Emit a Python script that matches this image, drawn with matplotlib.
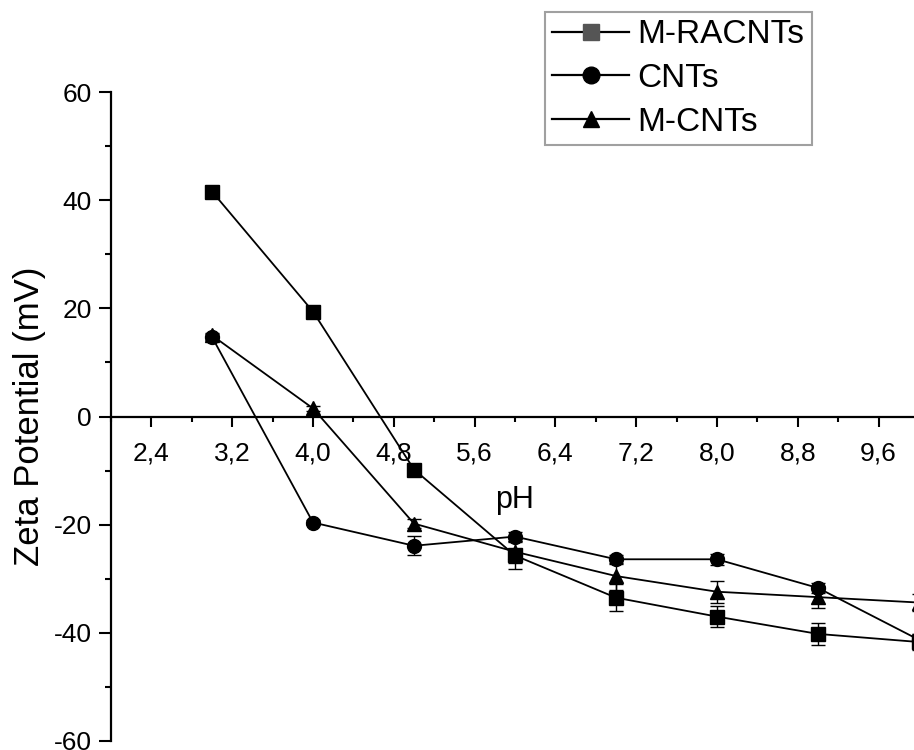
import numpy as np
import matplotlib.pyplot as plt
from matplotlib.ticker import MultipleLocator
from matplotlib.lines import Line2D

plt.rcParams['font.family'] = ['Liberation Sans', 'DejaVu Sans']
plt.rcParams['axes.unicode_minus'] = False

# pH values and zeta potential readings (mV)
ph = [3, 4, 5, 6, 7, 8, 9, 10]

racnt = [41.6, 19.4, -9.8, -25.7, -33.5, -37.0, -40.2, -41.7]
racnt_err = [1.0, 0.8, 0.8, 2.5, 2.5, 2.0, 2.0, 1.5]

cnt = [14.7, -19.6, -23.9, -22.2, -26.4, -26.4, -31.7, -41.3]
cnt_err = [0.5, 0.5, 1.8, 0.8, 0.8, 1.0, 1.0, 1.0]

mcnt = [15.0, 1.5, -19.8, -25.0, -29.5, -32.4, -33.4, -34.4]
mcnt_err = [0.5, 0.5, 0.8, 2.0, 2.5, 2.0, 2.0, 1.5]

xticks = [2.4, 3.2, 4.0, 4.8, 5.6, 6.4, 7.2, 8.0, 8.8, 9.6]
xtick_labels = ['2,4', '3,2', '4,0', '4,8', '5,6', '6,4', '7,2', '8,0', '8,8', '9,6']
yticks = [-60, -40, -20, 0, 20, 40, 60]

fig = plt.figure(figsize=(9.14, 7.5), dpi=100)
ax = fig.add_axes([111 / 914, 9 / 750, 808 / 914, 649 / 750])

series = [
    (racnt, racnt_err, 's', 'M-RACNTs'),
    (cnt, cnt_err, 'o', 'CNTs'),
    (mcnt, mcnt_err, '^', 'M-CNTs'),
]
handles = []
for y, err, m, lab in series:
    ax.errorbar(ph, y, yerr=err, fmt='-', marker=m, color='black', ms=10,
                lw=1.3, elinewidth=1, capsize=5, capthick=1)
    face = '#555555' if m == 's' else 'black'
    handles.append(Line2D([], [], color='black', lw=1.6, marker=m, ms=12,
                          markerfacecolor=face, markeredgecolor=face, label=lab))

ax.set_xlim(2.0, 10.0)
ax.set_ylim(-60, 60)

ax.spines['top'].set_visible(False)
ax.spines['right'].set_visible(False)
ax.spines['bottom'].set_position(('data', 0))
ax.spines['left'].set_linewidth(1.6)
ax.spines['bottom'].set_linewidth(1.6)

ax.set_xticks(xticks)
ax.set_xticklabels(xtick_labels)
ax.xaxis.set_minor_locator(MultipleLocator(0.4))
ax.set_yticks(yticks)
ax.yaxis.set_minor_locator(MultipleLocator(10))

ax.tick_params(axis='x', which='major', direction='out', length=7, width=1.5,
               labelsize=19, pad=11)
ax.tick_params(axis='x', which='minor', direction='out', length=3.5, width=1.5)
ax.tick_params(axis='y', which='major', direction='out', length=9, width=1.5,
               labelsize=19, pad=5)
ax.tick_params(axis='y', which='minor', direction='out', length=4, width=1.5)

ax.set_xlabel('pH', fontsize=22)
ax.xaxis.set_label_coords(0.5, 0.395)
ax.set_ylabel('Zeta Potential (mV)', fontsize=25)
ax.yaxis.set_label_coords(-0.081, 0.5)

leg = fig.legend(handles=handles, loc='upper left',
                 bbox_to_anchor=(545 / 914, 1 - 12 / 750),
                 borderaxespad=0, fontsize=24, frameon=True, fancybox=False,
                 handlelength=2.3, handletextpad=0.25, labelspacing=0.38,
                 borderpad=0.22)
leg.get_frame().set_edgecolor('#888888')
leg.get_frame().set_linewidth(1.5)

fig.savefig('out.png', dpi=100)
